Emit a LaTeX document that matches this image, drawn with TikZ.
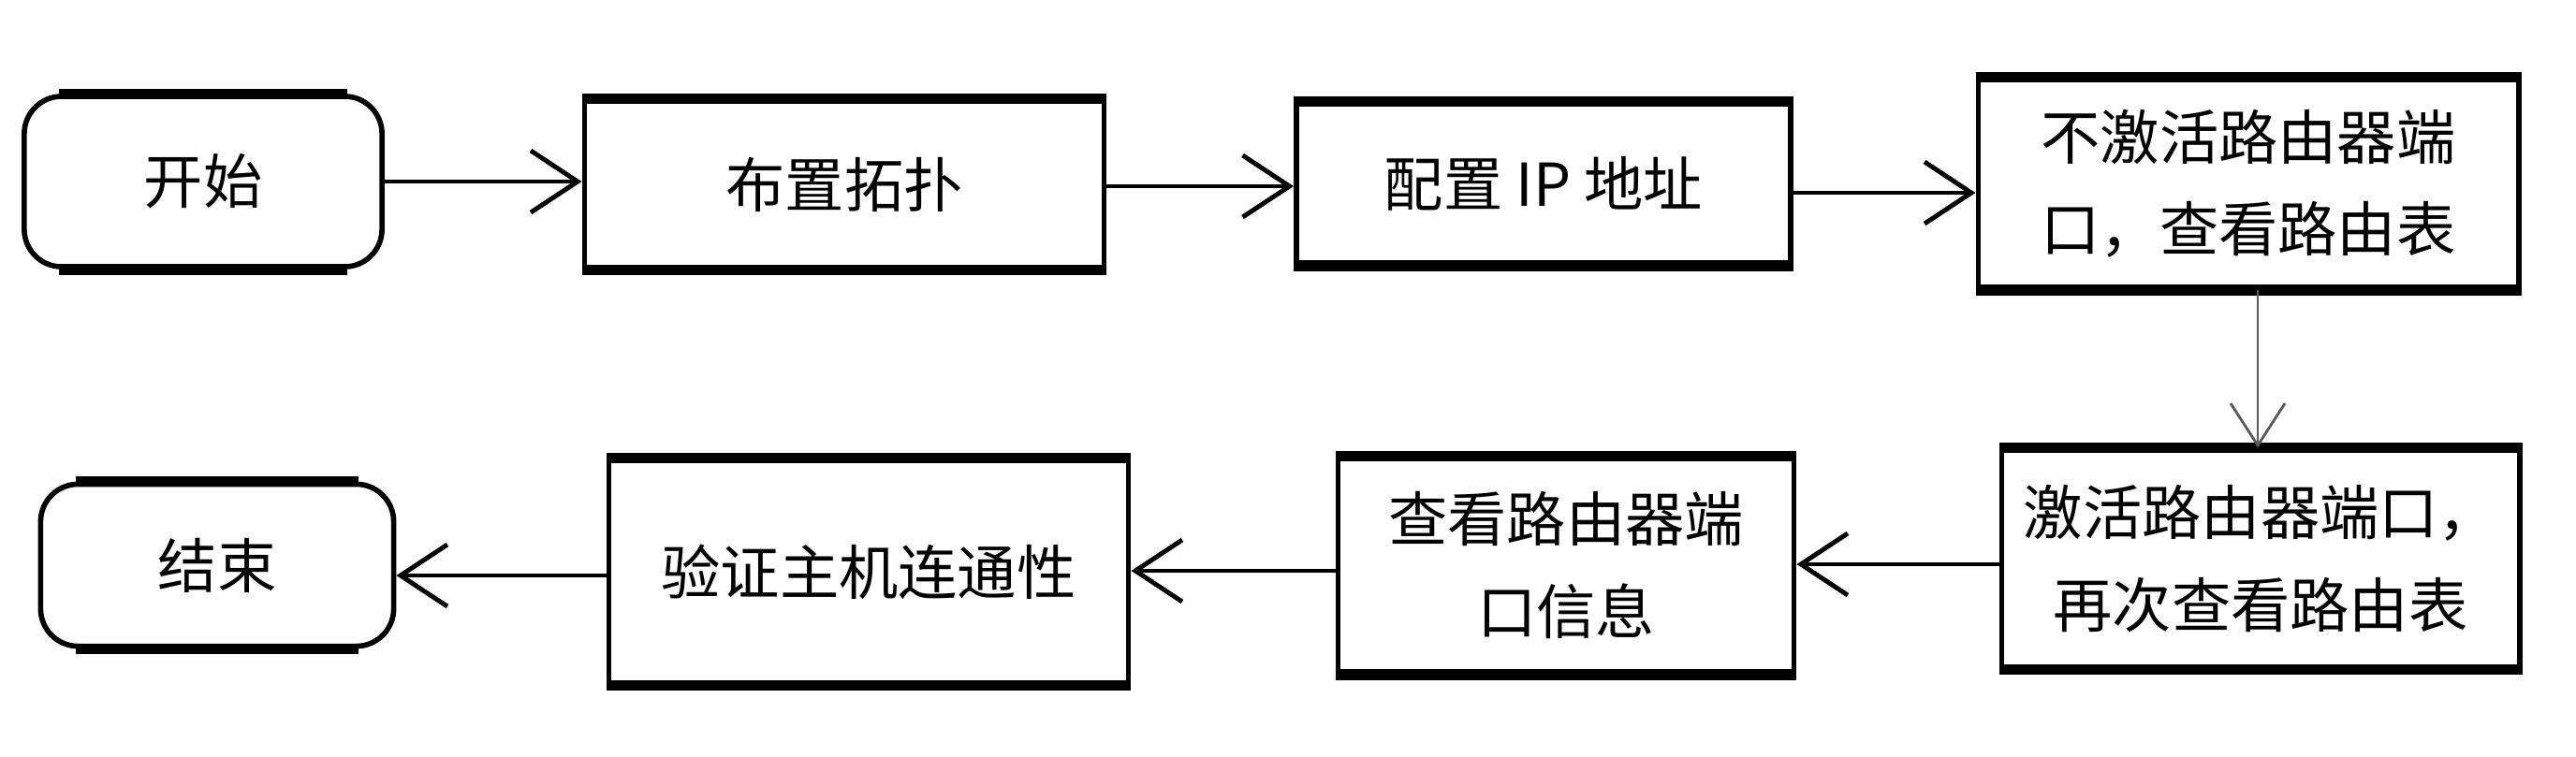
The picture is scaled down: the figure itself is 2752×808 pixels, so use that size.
\documentclass[tikz,border=0pt]{standalone}
\usepackage{fontspec}
\newfontfamily\cjk{Noto Sans CJK SC}
\usetikzlibrary{arrows.meta}
\tikzset{
  box/.style={draw, line width=1.6pt, inner sep=0pt, align=center, fill=white,
    font=\cjk\fontsize{18}{28}\selectfont},
  rbox/.style={box, rounded corners=0.4cm},
  flow/.style={line width=1.4pt, -{Straight Barb[length=0.5cm,width=0.66cm]}},
  thinflow/.style={line width=0.8pt, draw=black!65, -{Straight Barb[length=0.45cm,width=0.58cm]}},
  heavy/.style={line width=3.2pt}
}
\begin{document}
\begin{tikzpicture}[x=0.01cm,y=-0.01cm]
\fill[white] (0,0) rectangle (2752,808);
\useasboundingbox (0,0) rectangle (2752,808);

% top row
\node[rbox, minimum width=3.82cm, minimum height=1.82cm] (start) at (217,194) {开始};
\node[box, minimum width=5.55cm, minimum height=1.77cm] (buzhi) at (902,197) {布置拓扑};
\node[box, minimum width=5.28cm, minimum height=1.70cm] (peizhi) at (1649,196) {配置 IP 地址};
\node[box, minimum width=5.77cm, minimum height=2.22cm] (bujihuo) at (2402,196) {不激活路由器端\\口，查看路由表};

% bottom row
\node[box, minimum width=5.53cm, minimum height=2.31cm] (jihuo) at (2415,597) {激活路由器端口，\\再次查看路由表};
\node[box, minimum width=4.87cm, minimum height=2.28cm] (chakan) at (1673,604) {查看路由器端\\口信息};
\node[box, minimum width=5.55cm, minimum height=2.37cm] (yanzheng) at (928,611) {验证主机连通性};
\node[rbox, minimum width=3.77cm, minimum height=1.73cm] (end) at (232,604) {结束};

% heavy top/bottom edges (scan look)
\foreach \n in {buzhi,peizhi,bujihuo,jihuo,chakan,yanzheng}
  \draw[heavy] (\n.north west) -- (\n.north east) (\n.south west) -- (\n.south east);
\foreach \n in {start,end}
  \draw[heavy] ([xshift=0.4cm]\n.north west) -- ([xshift=-0.4cm]\n.north east)
               ([xshift=0.4cm]\n.south west) -- ([xshift=-0.4cm]\n.south east);

% connectors
\draw[flow] (start.east) -- (start.east -| buzhi.west);
\draw[flow] ([yshift=-0.02cm]buzhi.east) -- ([yshift=-0.02cm]buzhi.east -| peizhi.west);
\draw[flow] ([yshift=-0.1cm]peizhi.east) -- ([yshift=-0.1cm]peizhi.east -| bujihuo.west);
\draw[thinflow] ([xshift=0.1cm]bujihuo.south) -- ([xshift=0.1cm]bujihuo.south |- jihuo.north);
\draw[flow] ([yshift=-0.06cm]jihuo.west) -- ([yshift=-0.06cm]jihuo.west -| chakan.east);
\draw[flow] ([yshift=-0.06cm]chakan.west) -- ([yshift=-0.06cm]chakan.west -| yanzheng.east);
\draw[flow] ([yshift=-0.04cm]yanzheng.west) -- ([yshift=-0.04cm]yanzheng.west -| end.east);
\end{tikzpicture}
\end{document}
